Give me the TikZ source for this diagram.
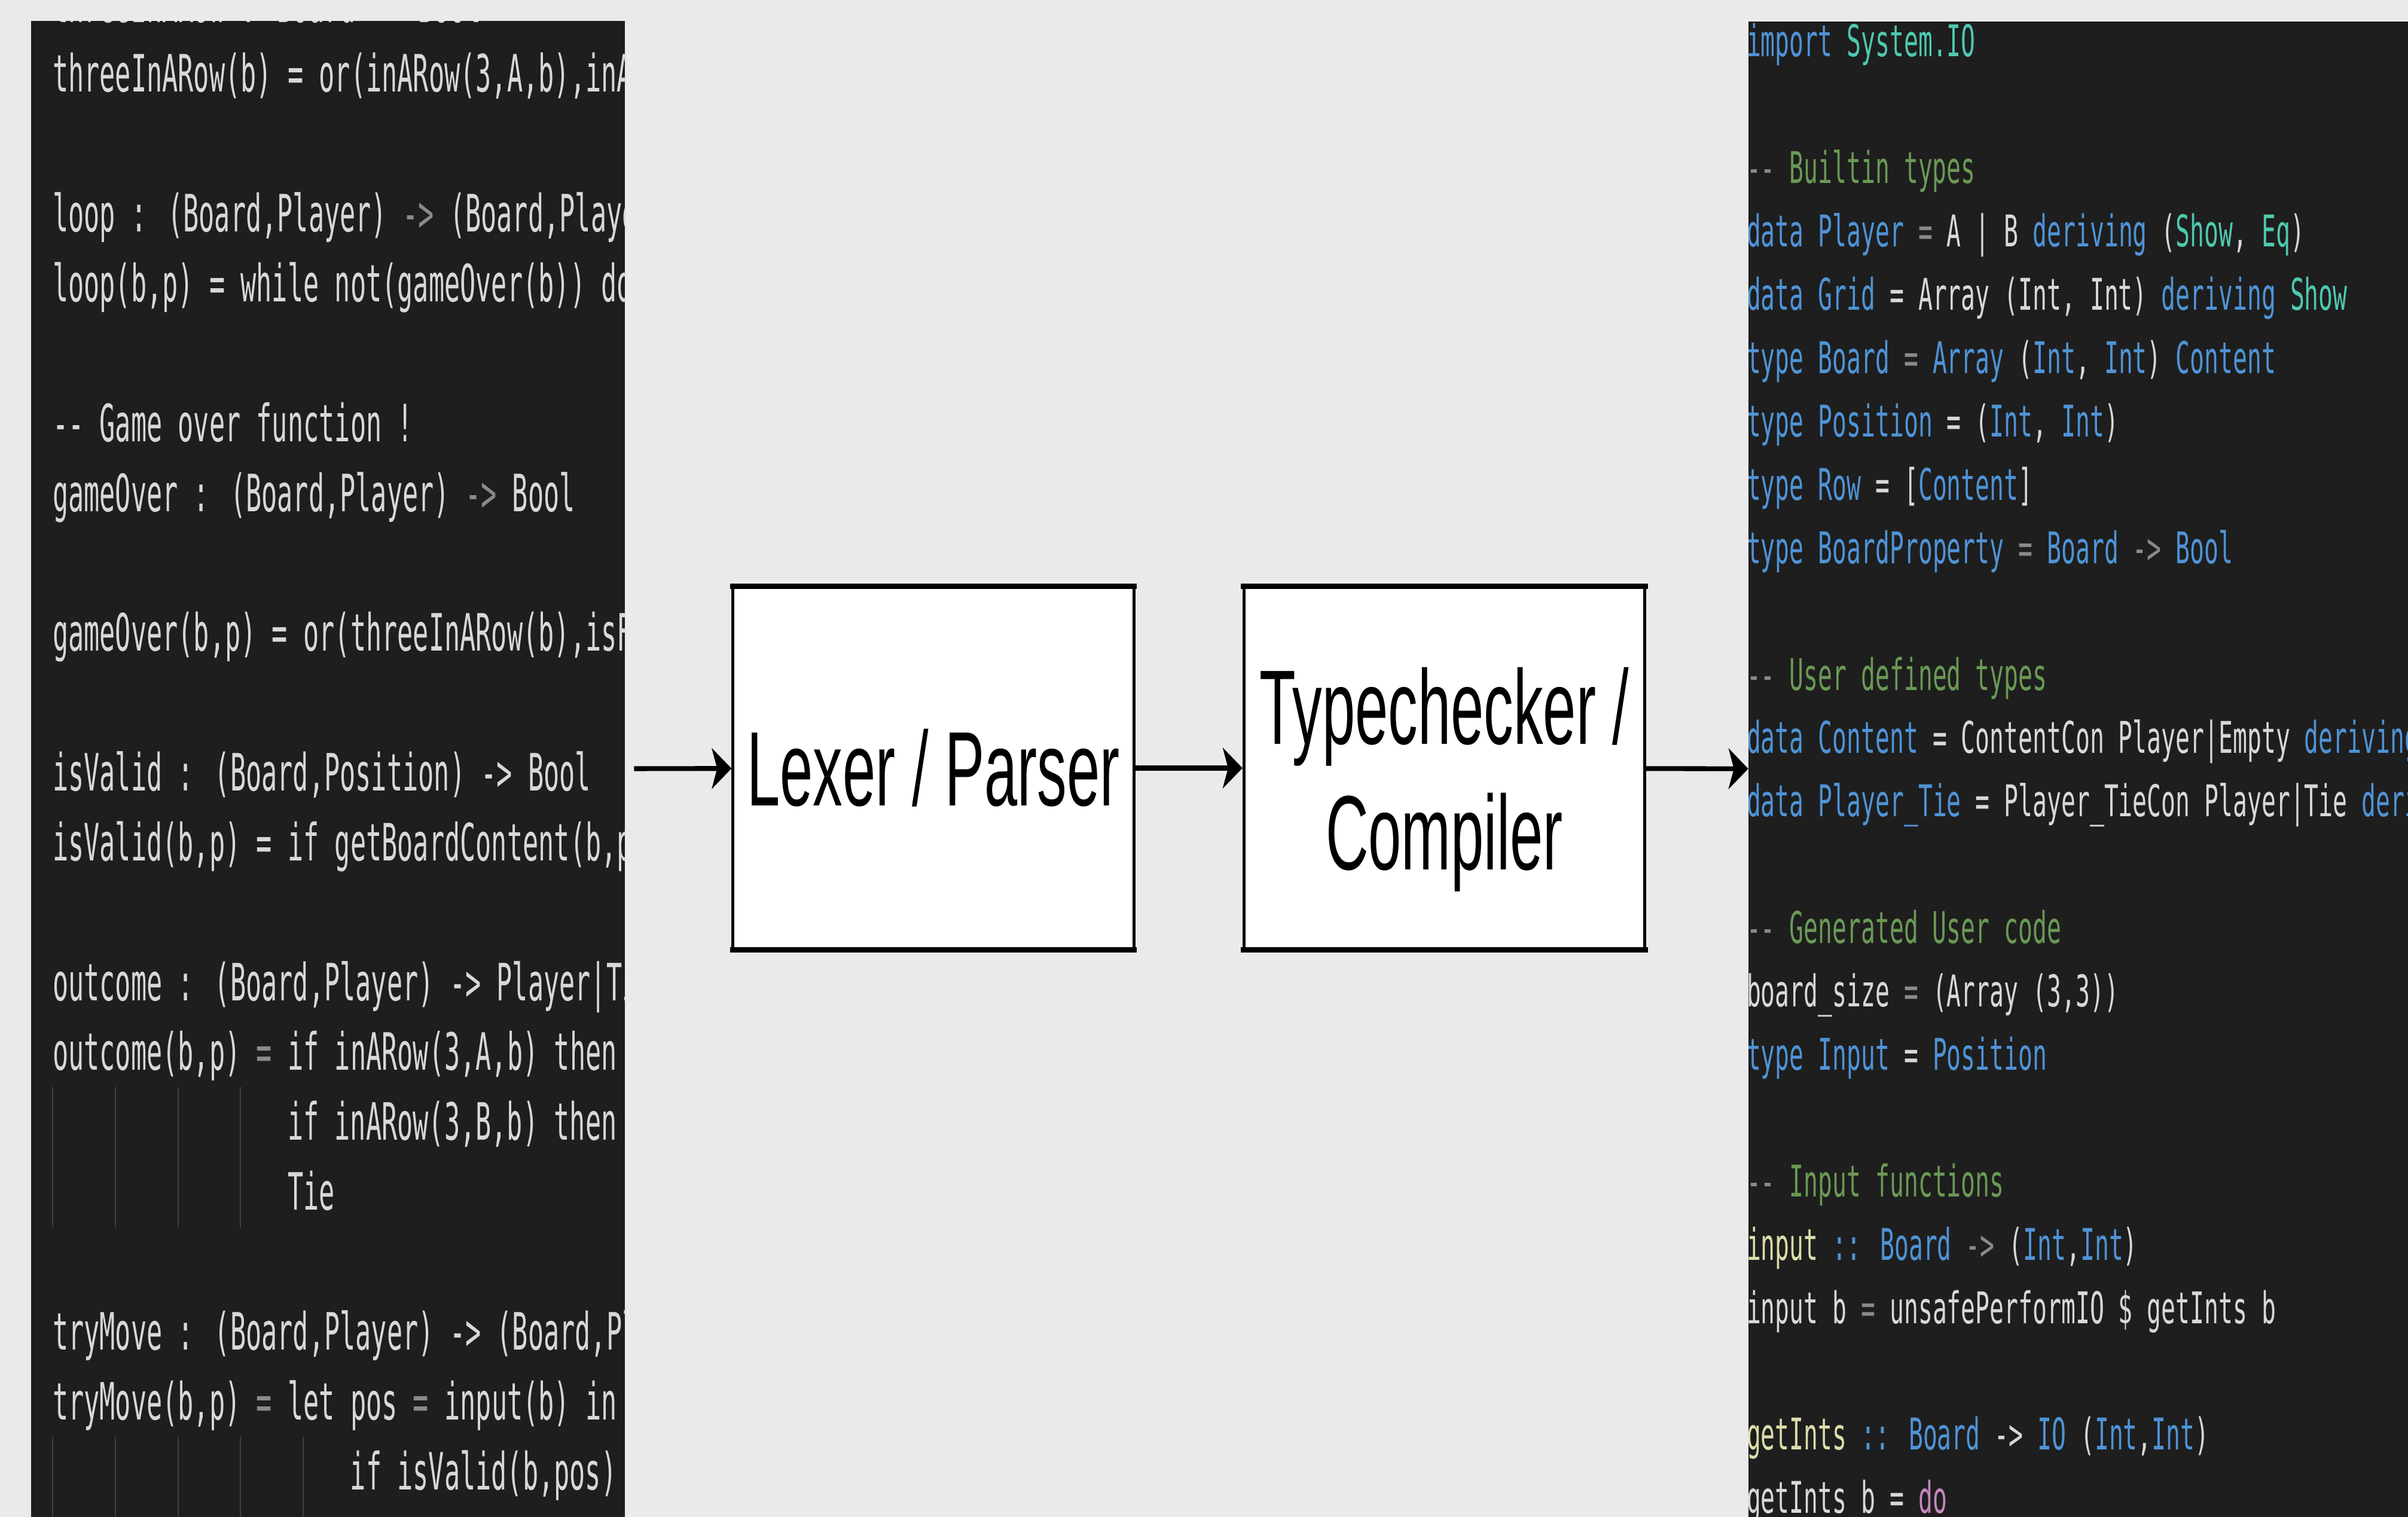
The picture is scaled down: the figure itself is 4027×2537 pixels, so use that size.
\documentclass[tikz,border=0pt]{standalone}
\usepackage{fontspec}
\usetikzlibrary{arrows.meta}
\newfontfamily\boxfont[FakeStretch=0.56]{Liberation Sans}
\newfontfamily\codeLfont[FakeStretch=0.506,Ligatures=TeXOff]{DejaVu Sans Mono}
\newfontfamily\codeRfont[FakeStretch=0.544,Ligatures=TeXOff]{DejaVu Sans Mono}
\definecolor{bg}{HTML}{EAEAEA}
\definecolor{codebg}{HTML}{1E1E1E}
\definecolor{codefg}{HTML}{D8D8D8}
\definecolor{kw}{HTML}{4F93D6}
\definecolor{ty}{HTML}{4EC9B0}
\definecolor{cm}{HTML}{6A9955}
\definecolor{fn}{HTML}{DCDCAA}
\definecolor{mg}{HTML}{C586C0}
\definecolor{dimc}{HTML}{8A8A8A}
\definecolor{guidec}{HTML}{404040}
\newcommand\hlkw[1]{\textcolor{kw}{#1}}
\newcommand\hlty[1]{\textcolor{ty}{#1}}
\newcommand\hlcm[1]{\textcolor{cm}{#1}}
\newcommand\hlfn[1]{\textcolor{fn}{#1}}
\newcommand\hlmg[1]{\textcolor{mg}{#1}}
\newcommand\hldim[1]{\textcolor{dimc}{#1}}
\tikzset{
  panel/.style={fill=codebg, draw=none, inner sep=0pt, outer sep=0pt},
  stage/.style={draw=black, fill=white, line width=1.4pt, minimum width=6.7cm,
    minimum height=6.03cm, inner sep=0pt, align=center,
    font=\boxfont\fontsize{50.36pt}{59.75pt}\selectfont},
  hedge/.style={draw=black, line width=2.6pt, shorten <=-0.025cm, shorten >=-0.025cm},
  arr/.style={-{Stealth[length=0.33cm,width=0.68cm,inset=0.09cm]}, line width=2.3pt},
  lcode/.style={anchor=base west, inner sep=0pt, outer sep=0pt, text=codefg,
    font=\codeLfont\fontsize{24.47pt}{24.47pt}\selectfont},
  rcode/.style={anchor=base west, inner sep=0pt, outer sep=0pt, text=codefg,
    font=\codeRfont\fontsize{20.77pt}{20.77pt}\selectfont},
  guide/.style={draw=guidec, line width=0.6pt},
}
\begin{document}
\begin{tikzpicture}[x=0.01cm, y=-0.01cm]
\useasboundingbox (0,0) rectangle (4027,2537);
\fill[bg] (0,0) rectangle (4027,2537);

% code panels
\node[panel, minimum width=9.93cm, minimum height=25.01cm] (src) at (548.5,1286.5) {};
\node[panel, minimum width=11.03cm, minimum height=25.00cm] (out) at (3475.5,1287) {};

% left code (source program)
\begin{scope}
\clip (52,36) rectangle (1045,2537);
\foreach \c in {0,4,8,12} {
  \draw[guide] ({88+26.2*\c},1818) -- ({88+26.2*\c},2053);
}
\foreach \c in {0,4,8,12,16} {
  \draw[guide] ({88+26.2*\c},2403) -- ({88+26.2*\c},2537);
}
\node[lcode] (lm1) at (88,{154-116.85}) {threeInARow : Board \hldim{->} Bool};
\node[lcode] (l0) at (88,{154}) {threeInARow(b) = or(inARow(3,A,b),inA};
\node[lcode] (l2) at (88,{154+116.85*2}) {loop : (Board,Player) \hldim{->} (Board,Playe};
\node[lcode] (l3) at (88,{154+116.85*3}) {loop(b,p) = while not(gameOver(b)) do};
\node[lcode] (l5) at (88,{154+116.85*5}) {-- Game over function !};
\node[lcode] (l6) at (88,{154+116.85*6}) {gameOver : (Board,Player) \hldim{->} Bool};
\node[lcode] (l8) at (88,{154+116.85*8}) {gameOver(b,p) = or(threeInARow(b),isF};
\node[lcode] (l10) at (88,{154+116.85*10}) {isValid : (Board,Position) -> Bool};
\node[lcode] (l11) at (88,{154+116.85*11}) {isValid(b,p) = if getBoardContent(b,p};
\node[lcode] (l13) at (88,{154+116.85*13}) {outcome : (Board,Player) -> Player|Ti};
\node[lcode] (l14) at (88,{154+116.85*14}) {outcome(b,p) \hldim{=} if inARow(3,A,b) then};
\node[lcode] (l15) at ({88+26.2*15},{154+116.85*15}) {if inARow(3,B,b) then};
\node[lcode] (l16) at ({88+26.2*15},{154+116.85*16}) {Tie};
\node[lcode] (l18) at (88,{154+116.85*18}) {tryMove : (Board,Player) -> (Board,Pl};
\node[lcode] (l19) at (88,{154+116.85*19}) {tryMove(b,p) \hldim{=} let pos \hldim{=} input(b) in};
\node[lcode] (l20) at ({88+26.2*19},{154+116.85*20}) {if isValid(b,pos)};
\end{scope}

% right code (generated Haskell)
\begin{scope}
\clip (2924,37) rectangle (4027,2537);
\node[rcode] (r0) at (2921,{95}) {\hlkw{import} \hlty{System.IO}};
\node[rcode] (r2) at (2921,{95+105.9*2}) {\hldim{--} \hlcm{Builtin types}};
\node[rcode] (r3) at (2921,{95+105.9*3}) {\hlkw{data Player} \hldim{=} A | B \hlkw{deriving} (\hlty{Show}, \hlty{Eq})};
\node[rcode] (r4) at (2921,{95+105.9*4}) {\hlkw{data Grid} = Array (Int, Int) \hlkw{deriving} \hlty{Show}};
\node[rcode] (r5) at (2921,{95+105.9*5}) {\hlkw{type Board} \hldim{=} \hlkw{Array} (\hlkw{Int}, \hlkw{Int}) \hlkw{Content}};
\node[rcode] (r6) at (2921,{95+105.9*6}) {\hlkw{type Position} = (\hlkw{Int}, \hlkw{Int})};
\node[rcode] (r7) at (2921,{95+105.9*7}) {\hlkw{type Row} = [\hlkw{Content}]};
\node[rcode] (r8) at (2921,{95+105.9*8}) {\hlkw{type BoardProperty} \hldim{=} \hlkw{Board} \hldim{->} \hlkw{Bool}};
\node[rcode] (r10) at (2921,{95+105.9*10}) {\hldim{--} \hlcm{User defined types}};
\node[rcode] (r11) at (2921,{95+105.9*11}) {\hlkw{data Content} = ContentCon Player|Empty \hlkw{deriving}};
\node[rcode] (r12) at (2921,{95+105.9*12}) {\hlkw{data Player\_Tie} = Player\_TieCon Player|Tie \hlkw{deri}};
\node[rcode] (r14) at (2921,{95+105.9*14}) {\hldim{--} \hlcm{Generated User code}};
\node[rcode] (r15) at (2921,{95+105.9*15}) {board\_size \hldim{=} (Array (3,3))};
\node[rcode] (r16) at (2921,{95+105.9*16}) {\hlkw{type Input} = \hlkw{Position}};
\node[rcode] (r18) at (2921,{95+105.9*18}) {\hldim{--} \hlcm{Input functions}};
\node[rcode] (r19) at (2921,{95+105.9*19}) {\hlfn{input} \hlkw{::} \hlkw{Board} \hldim{->} (\hlkw{Int},\hlkw{Int})};
\node[rcode] (r20) at (2921,{95+105.9*20}) {input b \hldim{=} unsafePerformIO \$ getInts b};
\node[rcode] (r22) at (2921,{95+105.9*22}) {\hlfn{getInts} \hlkw{::} \hlkw{Board} -> \hlkw{IO} (\hlkw{Int},\hlkw{Int})};
\node[rcode] (r23) at (2921,{95+105.9*23}) {getInts b = \hlmg{do}};
\end{scope}

% pipeline stages
\node[stage] (lexer) at (1561,1284.5) {Lexer / Parser};
\node[stage] (typechk) at (2415.5,1284.5) {\rule{0pt}{1.66cm}Typechecker /\\Compiler};
% heavier horizontal edges (the figure is stretched vertically)
\foreach \b in {lexer,typechk} {
  \draw[hedge] (\b.north west) -- (\b.north east);
  \draw[hedge] (\b.south west) -- (\b.south east);
}

% connectors
\draw[arr, shorten <=0.15cm] (src) -- (lexer);
\draw[arr] (lexer) -- (typechk);
\draw[arr] (typechk) -- (out);
\end{tikzpicture}
\end{document}
